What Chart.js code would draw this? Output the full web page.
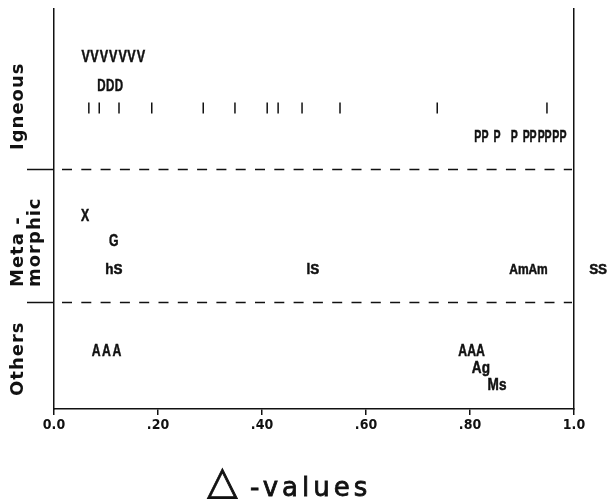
<!DOCTYPE html>
<html>
<head>
<meta charset="utf-8">
<script src="https://cdn.jsdelivr.net/npm/chart.js@4.4.1/dist/chart.umd.min.js"></script>
<style>
  html, body { margin: 0; padding: 0; background: #fff; }
  #wrap { width: 609px; height: 499px; position: relative; }
</style>
</head>
<body>
<div id="wrap"><canvas id="deltaChart"></canvas></div>
<script>
// Delta-values per sample, one letter (or tick) per sample
const tickLabels = ['0.0', '.20', '.40', '.60', '.80', '1.0'];
const groupNames = ['Igneous', 'Meta -', 'morphic', 'Others'];

// Igneous
const igneousV = [0.061, 0.078, 0.096, 0.114, 0.132, 0.149, 0.167];
const igneousD = [0.091, 0.108, 0.125];
const igneousTicks = [0.067, 0.087, 0.125, 0.188, 0.287, 0.348, 0.410, 0.431, 0.477, 0.550, 0.737, 0.948];
const igneousP = [0.815, 0.829, 0.852, 0.885, 0.908, 0.921, 0.937, 0.950, 0.965, 0.979];
// Metamorphic
const metaX = [0.060];
const metaG = [0.115];
const metaHS = [0.115];
const metaLS = [0.498];
const metaAm = [0.894, 0.931];
const metaS = [1.038, 1.055];
// Others
const othersA = [0.081, 0.101, 0.121, 0.786, 0.803, 0.820];
const othersAg = [0.821];
const othersMs = [0.852];

// row levels on a 0-100 vertical scale
const rowV = 88.25, rowD = 81, rowTicks = 75.25, rowP = 68.25;
const rowX = 48.5, rowG = 42.25, rowS = 35;
const rowA = 14.75, rowAg = 10.5, rowMs = 6.25;
const groupBreaks = [60, 26.75];

const boldMark = "bold 17px 'Liberation Sans', Arial, sans-serif";
const lightMark = "bold 15px 'Liberation Sans', Arial, sans-serif";

function letters(mark, xs, y, font, squash) {
    return {
        mark: mark,
        markFont: font,
        squash: squash,
        data: xs.map(x => ({ x: x, y: y })),
        pointRadius: 0,
        pointHoverRadius: 0,
        clip: false
    };
}

const markPlugin = {
    id: 'marks',
    afterDatasetsDraw(chart) {
        const ctx = chart.ctx;
        chart.data.datasets.forEach((ds, i) => {
            if (!ds.mark) return;
            const meta = chart.getDatasetMeta(i);
            ctx.save();
            ctx.fillStyle = '#111';
            ctx.strokeStyle = '#111';
            ctx.lineWidth = 0.5;
            ctx.font = ds.markFont;
            ctx.textAlign = 'center';
            ctx.textBaseline = 'middle';
            meta.data.forEach(pt => {
                ctx.save();
                ctx.translate(pt.x, pt.y);
                ctx.scale(ds.squash, 1);
                ctx.fillText(ds.mark, 0, 1);
                ctx.strokeText(ds.mark, 0, 1);
                ctx.restore();
            });
            ctx.restore();
        });
    }
};

function verticalText(ctx, text, x, yBottom) {
    ctx.save();
    ctx.translate(x, yBottom);
    ctx.rotate(-Math.PI / 2);
    ctx.textAlign = 'left';
    ctx.textBaseline = 'middle';
    ctx.fillText(text, 0, 0);
    ctx.restore();
}

const framePlugin = {
    id: 'frame',
    afterDraw(chart) {
        const { ctx, chartArea: a, scales: { y } } = chart;
        ctx.save();
        ctx.strokeStyle = '#111';
        ctx.lineWidth = 1.5;
        groupBreaks.forEach(v => {
            const py = Math.round(y.getPixelForValue(v)) + 0.5;
            ctx.setLineDash([]);
            ctx.beginPath();
            ctx.moveTo(a.left - 27, py);
            ctx.lineTo(a.left, py);
            ctx.stroke();
            ctx.setLineDash([10, 9.3]);
            ctx.beginPath();
            ctx.moveTo(a.left + 8, py);
            ctx.lineTo(a.right - 2, py);
            ctx.stroke();
        });
        ctx.setLineDash([]);

        // group names down the left side
        ctx.fillStyle = '#111';
        ctx.font = "bold 18px 'DejaVu Sans', sans-serif";
        ctx.letterSpacing = '1px';
        verticalText(ctx, groupNames[0], 18, 150);
        verticalText(ctx, groupNames[1], 18, 287);
        verticalText(ctx, groupNames[2], 35, 287);
        verticalText(ctx, groupNames[3], 18, 396);

        // axis title
        ctx.textBaseline = 'alphabetic';
        ctx.textAlign = 'left';
        ctx.letterSpacing = '0px';
        ctx.font = "40px 'DejaVu Sans', sans-serif";
        ctx.lineWidth = 0.8;
        ctx.fillText('\u25B3', 207, 494);
        ctx.strokeText('\u25B3', 207, 494);
        ctx.letterSpacing = '4px';
        ctx.font = "26px 'DejaVu Sans', sans-serif";
        ctx.fillText('-values', 250, 496);
        ctx.strokeText('-values', 250, 496);
        ctx.restore();
    }
};

const ctx = document.getElementById('deltaChart').getContext('2d');
const deltaChart = new Chart(ctx, {
    type: 'scatter',
    data: {
        datasets: [
            letters('V', igneousV, rowV, boldMark, 0.74),
            letters('D', igneousD, rowD, boldMark, 0.68),
            {
                data: igneousTicks.map(x => ({ x: x, y: rowTicks })),
                pointStyle: 'line',
                rotation: 90,
                pointRadius: 5.5,
                pointHoverRadius: 5.5,
                borderWidth: 1.5,
                borderColor: '#111'
            },
            letters('P', igneousP, rowP, boldMark, 0.62),
            letters('X', metaX, rowX, boldMark, 0.72),
            letters('G', metaG, rowG, boldMark, 0.72),
            letters('hS', metaHS, rowS, lightMark, 0.9),
            letters('lS', metaLS, rowS, lightMark, 0.9),
            letters('Am', metaAm, rowS, lightMark, 0.8),
            letters('S', metaS, rowS, lightMark, 0.9),
            letters('A', othersA, rowA, boldMark, 0.72),
            letters('Ag', othersAg, rowAg, boldMark, 0.8),
            letters('Ms', othersMs, rowMs, boldMark, 0.8)
        ]
    },
    plugins: [markPlugin, framePlugin],
    options: {
        responsive: true,
        maintainAspectRatio: false,
        animation: false,
        events: [],
        layout: {
            padding: { top: 9, right: 35, left: 0, bottom: 0 }
        },
        plugins: {
            legend: { display: false },
            tooltip: { enabled: false }
        },
        scales: {
            x: {
                type: 'linear',
                min: 0,
                max: 1,
                afterFit: function(scale) { scale.height = 90; },
                border: { display: true, color: '#111', width: 1.5 },
                grid: {
                    drawOnChartArea: false,
                    color: '#111',
                    lineWidth: 1.5,
                    tickLength: 6
                },
                ticks: {
                    stepSize: 0.2,
                    color: '#111',
                    padding: 2,
                    maxRotation: 0,
                    font: { family: "'Liberation Sans Narrow', 'DejaVu Sans Condensed', 'Liberation Sans'", size: 14, weight: 'bold' },
                    callback: function(value, index) {
                        return tickLabels[index];
                    }
                }
            },
            y: {
                type: 'linear',
                min: 0,
                max: 100,
                afterFit: function(scale) { scale.width = 54; },
                border: { display: true, color: '#111', width: 1.5 },
                grid: { display: false },
                ticks: { display: false }
            },
            y2: {
                type: 'linear',
                position: 'right',
                min: 0,
                max: 100,
                afterFit: function(scale) { scale.width = 0; },
                border: { display: true, color: '#111', width: 1.5 },
                grid: { display: false },
                ticks: { display: false }
            }
        }
    }
});
</script>
</body>
</html>
